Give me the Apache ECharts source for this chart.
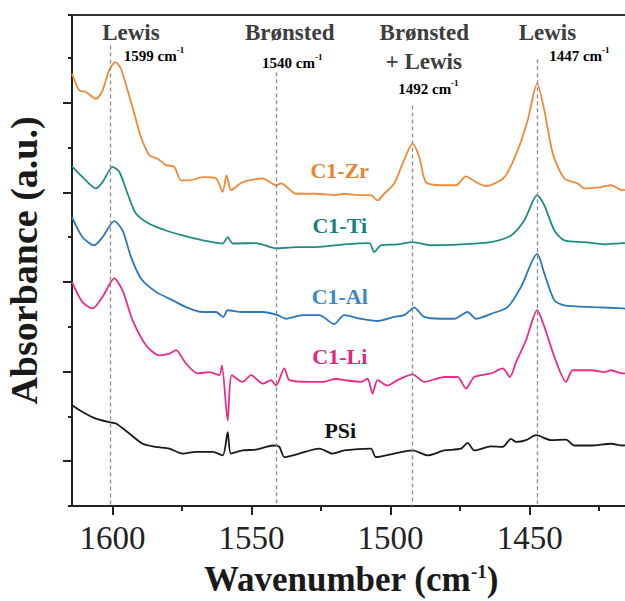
<!DOCTYPE html>
<html>
<head>
<meta charset="utf-8">
<script src="https://cdn.jsdelivr.net/npm/echarts@6/dist/echarts.min.js"></script>
<style>
  html, body { margin: 0; padding: 0; background: #fff; }
  #chart { width: 625px; height: 601px; }
</style>
</head>
<body>
<div id="chart"></div>
<script>
// wavenumber (cm-1) / absorbance (a.u., offset stacked)
const zrWave = [1614.6,1612.0,1609.6,1606.0,1603.6,1601.2,1599.0,1597.0,1594.6,1592.2,1589.8,1586.8,1583.8,1580.8,1577.8,1575.4,1572.4,1567.6,1562.8,1560.4,1559.0,1557.4,1553.2,1546.0,1541.2,1539.4,1534.0,1526.8,1519.6,1516.7,1511.9,1507.1,1504.7,1502.3,1498.7,1495.7,1492.1,1489.7,1487.3,1481.9,1476.5,1472.9,1469.3,1465.7,1459.1,1454.3,1450.7,1447.3,1444.7,1441.7,1437.5,1432.7,1430.3,1424.3,1420.7,1416.6,1413.9]
const zrAbs  = [9.65,9.28,9.24,9.09,9.28,9.73,9.91,9.76,9.28,8.76,8.24,7.83,7.75,7.61,7.57,7.27,7.27,7.34,7.31,7.01,7.38,7.05,7.23,7.31,7.16,7.20,6.97,6.97,6.94,6.97,6.94,6.94,6.82,6.97,7.20,7.64,8.09,7.79,7.23,7.16,7.16,7.36,7.23,7.14,7.34,7.94,8.61,9.43,8.83,7.87,7.31,7.20,7.09,7.12,7.16,7.05,7.08]

const tiWave = [1614.6,1610.8,1606.0,1603.6,1600.0,1597.6,1594.6,1591.6,1586.8,1580.8,1574.8,1567.6,1560.4,1558.6,1556.8,1548.4,1541.2,1534.0,1526.8,1516.7,1507.7,1505.9,1503.5,1497.5,1492.1,1485.5,1474.7,1463.9,1456.7,1451.9,1447.3,1444.7,1441.1,1437.5,1430.3,1423.1,1416.6,1413.9]
const tiAbs  = [7.58,7.34,7.09,7.23,7.57,7.46,6.97,6.53,6.30,6.15,6.04,5.93,5.86,6.00,5.86,5.87,5.75,5.78,5.78,5.84,5.87,5.67,5.82,5.84,5.89,5.82,5.84,5.89,6.04,6.38,6.94,6.71,6.15,5.93,5.89,5.84,5.87,5.86]

const alWave = [1614.6,1610.8,1606.6,1603.6,1599.4,1596.4,1593.4,1589.8,1584.4,1579.6,1573.6,1567.6,1562.8,1560.2,1558.6,1553.2,1546.0,1540.6,1537.6,1531.7,1525.6,1520.3,1516.7,1510.7,1504.7,1498.7,1495.1,1491.5,1487.9,1481.9,1477.1,1472.3,1469.3,1463.9,1457.9,1453.1,1447.3,1444.7,1441.1,1437.5,1426.7,1416.6,1413.9]
const alAbs  = [6.45,6.00,5.82,6.00,6.36,6.15,5.56,5.08,4.78,4.63,4.44,4.33,4.33,4.22,4.37,4.33,4.33,4.26,4.18,4.26,4.26,4.06,4.26,4.18,4.13,4.22,4.26,4.43,4.22,4.18,4.18,4.33,4.18,4.29,4.44,4.89,5.63,5.19,4.59,4.48,4.44,4.41,4.40]

const liWave = [1614.6,1610.8,1607.2,1603.6,1599.4,1596.4,1592.8,1588.0,1583.2,1579.6,1577.2,1573.6,1569.4,1565.2,1561.6,1560.7,1558.6,1557.1,1553.2,1550.2,1546.0,1543.0,1541.2,1538.2,1536.4,1529.2,1524.5,1519.6,1516.7,1510.7,1508.3,1506.5,1504.7,1501.1,1497.5,1492.1,1487.9,1480.7,1475.9,1472.9,1469.9,1463.9,1459.7,1457.1,1454.9,1451.3,1447.3,1444.7,1441.1,1436.9,1434.5,1427.9,1423.1,1420.7,1416.6,1413.9]
const liAbs  = [5.00,4.55,4.41,4.67,5.08,4.81,4.15,3.59,3.36,3.40,3.48,3.18,2.96,2.99,2.92,3.14,1.91,2.92,2.77,2.92,2.73,2.81,2.69,3.07,2.81,2.77,2.77,2.84,2.81,2.77,2.84,2.51,2.81,2.69,2.81,2.94,2.77,2.88,2.88,2.62,2.88,2.96,3.07,2.88,3.21,3.70,4.37,4.00,3.33,2.77,3.03,3.03,2.99,3.03,2.96,2.97]

const psiWave = [1614.6,1610.8,1606.0,1601.2,1598.8,1594.0,1589.2,1584.4,1579.6,1574.8,1570.0,1564.0,1560.4,1558.6,1557.4,1553.2,1548.4,1544.8,1541.8,1540.0,1538.2,1532.9,1525.6,1520.9,1516.7,1507.1,1505.3,1498.7,1492.1,1486.7,1480.7,1474.7,1472.3,1469.9,1463.9,1459.7,1456.7,1454.9,1451.3,1447.7,1442.3,1436.9,1433.9,1427.9,1420.7,1416.6,1413.9]
const psiAbs  = [2.25,2.10,1.95,1.87,1.84,1.62,1.39,1.32,1.28,1.17,1.21,1.21,1.13,1.65,1.17,1.24,1.26,1.32,1.35,1.32,1.09,1.17,1.28,1.17,1.24,1.28,1.09,1.17,1.24,1.13,1.24,1.28,1.41,1.24,1.33,1.32,1.50,1.43,1.47,1.58,1.47,1.48,1.35,1.35,1.39,1.35,1.36]

// peak markers: [drawn position, top of dashed line]
const peakWave = [1600.8, 1541.1, 1492.3, 1447.1]
const peakTop  = [10.28, 9.68, 8.94, 9.97]

const xMajorTicks = [1600, 1550, 1500, 1450]
const xMinorTicks = [1575, 1525, 1475, 1425]
const yMajorTicks = [1, 3, 5, 7, 9]

const seriesNames  = ['C1-Zr', 'C1-Ti', 'C1-Al', 'C1-Li', 'PSi']
const seriesColors = ['#ee8a3a', '#1f8c84', '#2b78bd', '#ec2c8b', '#1a1a1a']
const labelColors  = ['#eb8232', '#17807a', '#3a88c6', '#e6247f', '#111111']
const seriesLabelPos = [[1518.3, 7.49], [1518.3, 6.27], [1518.3, 4.68], [1518.3, 3.34], [1518.1, 1.69]]

const serif = 'Liberation Serif'

let waves = [zrWave, tiWave, alWave, liWave, psiWave]
let absVals = [zrAbs, tiAbs, alAbs, liAbs, psiAbs]

let chart = echarts.init(document.getElementById('chart'), null, { renderer: 'svg' })

let series = seriesNames.map((name, i) => ({
  name: name,
  type: 'line',
  xAxisIndex: 0,
  yAxisIndex: 0,
  data: waves[i].map((w, k) => [w, absVals[i][k]]),
  showSymbol: false,
  smooth: 0.25,
  lineStyle: { color: seriesColors[i], width: 1.8 },
  z: 3
}))

// dashed peak guides
series[0].markLine = {
  silent: true,
  symbol: 'none',
  label: { show: false },
  lineStyle: { color: '#8c8c8c', width: 1.3, type: [4, 3] },
  data: peakWave.map((w, i) => [{ coord: [w, peakTop[i]] }, { coord: [w, 0] }])
}

const xRange = { min: 1413.9, max: 1614.6 }
const yRange = { min: 0, max: 10.96 }

chart.setOption({
  backgroundColor: '#fff',
  animation: false,
  grid: {
    left: 72, right: -5, top: 15, bottom: 95,
    containLabel: false,
    outerBoundsMode: 'none',
    show: true, borderColor: '#333', borderWidth: 2
  },
  xAxis: [{
    type: 'value', inverse: true, ...xRange,
    axisLine: { show: true, lineStyle: { color: '#222', width: 2 } },
    axisTick: { show: true, customValues: xMajorTicks, length: 9, lineStyle: { color: '#222', width: 2 } },
    axisLabel: { show: true, customValues: xMajorTicks, formatter: v => String(v), fontFamily: serif, fontSize: 33, color: '#222', margin: 15 },
    splitLine: { show: false },
    name: '{t|Wavenumber (cm}{s|-1}{t|)}',
    nameLocation: 'middle',
    nameGap: 56,
    nameTextStyle: {
      rich: {
        t: { fontFamily: serif, fontSize: 35, fontWeight: 'bold', color: '#1a1a1a', lineHeight: 35, verticalAlign: 'bottom' },
        s: { fontFamily: serif, fontSize: 19, fontWeight: 'bold', color: '#1a1a1a', lineHeight: 35, verticalAlign: 'top' }
      }
    }
  }, {
    type: 'value', inverse: true, ...xRange, position: 'bottom',
    axisLine: { show: false },
    axisTick: { show: true, customValues: xMinorTicks, length: 5, lineStyle: { color: '#222', width: 2 } },
    axisLabel: { show: false },
    splitLine: { show: false }
  }],
  yAxis: [{
    type: 'value', ...yRange, interval: 1,
    axisLine: { show: true, lineStyle: { color: '#222', width: 2 } },
    axisTick: { show: true, length: 4, lineStyle: { color: '#222', width: 2 } },
    axisLabel: { show: false },
    splitLine: { show: false },
    name: 'Absorbance (a.u.)',
    nameLocation: 'middle',
    nameGap: 29,
    nameTextStyle: { fontFamily: serif, fontSize: 38, fontWeight: 'bold', color: '#1a1a1a' }
  }, {
    type: 'value', ...yRange, position: 'left',
    axisLine: { show: false },
    axisTick: { show: true, customValues: yMajorTicks, length: 9, lineStyle: { color: '#222', width: 2 } },
    axisLabel: { show: false },
    splitLine: { show: false }
  }],
  series: series
})

// text annotations anchored to data coordinates
const cmRich = {
  t: { fontFamily: serif, fontSize: 15, fontWeight: 'bold', color: '#8a8a8a', lineHeight: 18, verticalAlign: 'bottom' },
  s: { fontFamily: serif, fontSize: 9, fontWeight: 'bold', color: '#8a8a8a', lineHeight: 18, verticalAlign: 'top' }
}
const annotations = [
  { text: 'Lewis', at: [1593.4, 10.57], big: true },
  { text: '{t|1599 cm}{s|-1}', at: [1585.1, 10.08] },
  { text: 'Brønsted', at: [1536.3, 10.57], big: true },
  { text: '{t|1540 cm}{s|-1}', at: [1535.4, 9.93] },
  { text: 'Brønsted', at: [1487.9, 10.57], big: true },
  { text: '+ Lewis', at: [1488.1, 9.93], big: true },
  { text: '{t|1492 cm}{s|-1}', at: [1486.4, 9.34] },
  { text: 'Lewis', at: [1443.6, 10.57], big: true },
  { text: '{t|1447 cm}{s|-1}', at: [1432.1, 10.08] }
]

let graphics = annotations.map(a => {
  let p = chart.convertToPixel({ gridIndex: 0 }, a.at)
  return {
    type: 'text', x: p[0], y: p[1], z: 10,
    style: a.big
      ? { text: a.text, fontFamily: serif, fontSize: 23, fontWeight: 'bold', fill: '#3d3d3d', align: 'center', verticalAlign: 'middle' }
      : { text: a.text, rich: cmRich, align: 'center', verticalAlign: 'middle' }
  }
})

seriesNames.forEach((name, i) => {
  let p = chart.convertToPixel({ gridIndex: 0 }, seriesLabelPos[i])
  graphics.push({
    type: 'text', x: p[0], y: p[1], z: 10,
    style: { text: name, fontFamily: serif, fontSize: 22, fontWeight: 'bold', fill: labelColors[i], align: 'center', verticalAlign: 'middle' }
  })
})

chart.setOption({ graphic: graphics })
</script>
</body>
</html>
